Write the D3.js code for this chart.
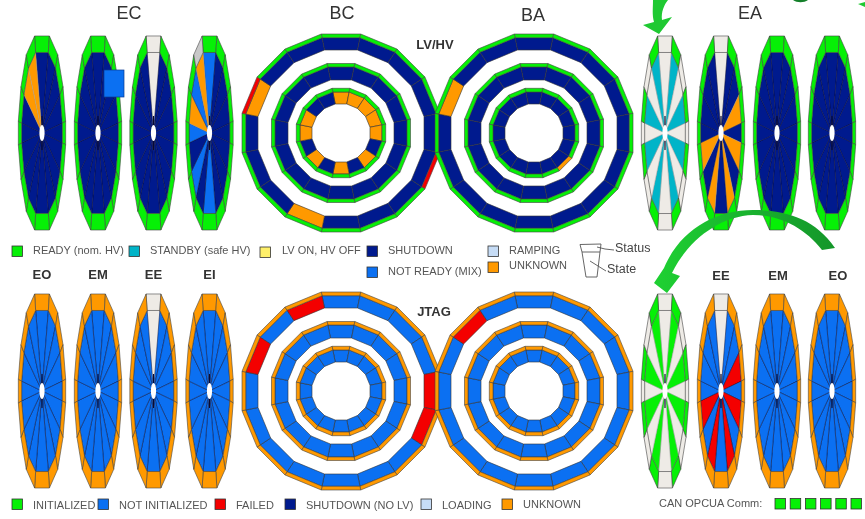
<!DOCTYPE html>
<html>
<head>
<meta charset="utf-8">
<script src="https://cdn.jsdelivr.net/npm/d3@7"></script>
<style>
  html, body { margin: 0; background: #fff; }
  svg { display: block; font-family: "Liberation Sans", Arial, sans-serif; filter: blur(0.4px); }
  .legend-text { font-size: 11px; fill: #555; }
  .title { font-size: 18px; fill: #333; text-anchor: middle; }
  .subtitle { font-size: 13px; font-weight: bold; fill: #333; text-anchor: middle; }
</style>
</head>
<body>
<svg id="chart" width="865" height="519"></svg>
<script>
// one letter per sector, clockwise from the top sector
const allOf = c => c.repeat(16);

// endcap wheels, HV panel
const ecState = ['nnnnnnnnnnnnnnoo', allOf('n'), 'wnnnnnnnnnnnnnnn', 'bnnnnnnnbnbnbobo'];
const ecStatus = [allOf('g'), allOf('g'), 'wggggggggggggggg', 'gggggggggggggggx'];
const eaState = ['wtwtwtwtwtwtwtwt', 'wnnonononononnnn', allOf('n'), allOf('n')];
const eaStatus = ['wgwgwgwgwgwgwgwg', 'wggggggggggggggg', allOf('g'), allOf('g')];

// endcap wheels, JTAG panel
const eiState = [allOf('b'), allOf('b'), 'wbbbbbbbbbbbbbbb', allOf('b')];
const eiStatus = [allOf('o'), allOf('o'), 'wooooooooooooooo', allOf('o')];
const eeState = ['wgwgwgwgwgwgwgwg', 'wbbrbrbrbrbrbbbb', allOf('b'), allOf('b')];
const eeStatus = ['wgwgwgwgwgwgwgwg', 'wooooooooooooooo', allOf('o'), allOf('o')];

// barrel rings, outer / middle / inner
const bcLvState = ['nnnnnnnnnonnnonn', allOf('n'), 'ooooonononon' + 'oonn'];
const bcLvStatus = ['ggggrrgggggggrgg', allOf('g'), allOf('g')];
const baLvState = ['nnnnnnnnnnnnnonn', allOf('n'), allOf('n')];
const baLvStatus = [allOf('g'), allOf('g'), 'ggggggoggggggggg'];
const bcJtagState = ['bbbbrrbbbbbbbrbr', allOf('b'), allOf('b')];
const baJtagState = ['bbbbbbbbbbbbbbrb', allOf('b'), allOf('b')];
const jtagStatus = [allOf('o'), allOf('o'), allOf('o')];

const hvLegendLabels = ['READY (nom. HV)', 'STANDBY (safe HV)', 'LV ON, HV OFF', 'SHUTDOWN', 'NOT READY (MIX)', 'RAMPING', 'UNKNOWN'];
const hvLegendCodes = ['g', 't', 'y', 'n', 'b', 'l', 'o'];
const jtagLegendLabels = ['INITIALIZED', 'NOT INITIALIZED', 'FAILED', 'SHUTDOWN (NO LV)', 'LOADING', 'UNKNOWN'];
const jtagLegendCodes = ['g', 'b', 'r', 'n', 'l', 'o'];
const canComm = ['g', 'g', 'g', 'g', 'g', 'g'];

const codes = ['g', 't', 'y', 'n', 'b', 'l', 'o', 'r', 'w', 'x'];
const color = d3.scaleOrdinal(codes,
  ['#06f006', '#00b4c8', '#fff06a', '#001a8e', '#0b70f2', '#c6dcf6', '#ff9900', '#f40000', '#eeebe6', '#c8c8c8']);

// layout
const sectors = d3.range(16);
const edgeAngle = d3.scaleLinear([0, 16], [-Math.PI / 16, 2 * Math.PI - Math.PI / 16]);
const colsLeft = [42, 98, 153.5, 209.5];
const colsRight = [665, 721, 777, 832];
const ringRadii = [[99, 95.3, 83], [69.5, 66, 53], [44.7, 41, 29]];
const vertexFactor = 1 / Math.cos(Math.PI / 16);

const svg = d3.select('#chart');
const art = svg.append('g').attr('id', 'art');

// endcap outline is not a true ellipse: pinch it with two exponents
const rimPoint = (x, y, i, rx, ry) => {
  const a = edgeAngle(i);
  const s = Math.sin(a), c = Math.cos(a);
  return [
    x(Math.sign(s) * Math.pow(Math.abs(s), 0.72) * rx),
    y(-Math.sign(c) * Math.pow(Math.abs(c), 1.3) * ry)
  ];
};

function drawWheel(parent, cx, cy, state, status) {
  const x = d3.scaleLinear([-1, 1], [cx - 24, cx + 24]);
  const y = d3.scaleLinear([-1, 1], [cy - 99.5, cy + 99.5]);
  const g = parent.append('g').attr('class', 'wheel');
  const poly = pts => 'M' + pts.map(p => p.join(',')).join('L') + 'Z';

  g.selectAll('.state').data(sectors).join('path')
    .attr('class', 'state')
    .attr('d', i => poly([[cx, cy], rimPoint(x, y, i, 0.86, 0.83), rimPoint(x, y, i + 1, 0.86, 0.83)]))
    .attr('fill', i => color(state[i]))
    .attr('stroke', i => 'nbr'.includes(state[i]) ? '#0a0a30' : '#9a9a9a')
    .attr('stroke-width', 0.45);

  g.selectAll('.status').data(sectors).join('path')
    .attr('class', 'status')
    .attr('d', i => poly([
      rimPoint(x, y, i, 1, 1), rimPoint(x, y, i + 1, 1, 1),
      rimPoint(x, y, i + 1, 0.86, 0.83), rimPoint(x, y, i, 0.86, 0.83)
    ]))
    .attr('fill', i => color(status[i]))
    .attr('stroke', '#444')
    .attr('stroke-width', 0.6);

  // spokes bunch up into a dark sliver above and below the hole
  g.append('line')
    .attr('x1', cx).attr('x2', cx)
    .attr('y1', cy - 17).attr('y2', cy + 17)
    .attr('stroke', '#0a0a30').attr('stroke-width', 1.1);

  g.append('ellipse')
    .attr('cx', cx).attr('cy', cy)
    .attr('rx', 2.6).attr('ry', 8)
    .attr('fill', '#fff');
}

function drawRings(parent, cx, cy, states, statuses) {
  const g = parent.append('g').attr('class', 'rings');
  ringRadii.forEach((radii, k) => {
    const band = (i, r0, r1) => {
      const pts = [
        d3.pointRadial(edgeAngle(i), r0 * vertexFactor),
        d3.pointRadial(edgeAngle(i + 1), r0 * vertexFactor),
        d3.pointRadial(edgeAngle(i + 1), r1 * vertexFactor),
        d3.pointRadial(edgeAngle(i), r1 * vertexFactor)
      ];
      return 'M' + pts.map(p => [cx + p[0], cy + p[1]].join(',')).join('L') + 'Z';
    };
    g.selectAll('.state' + k).data(sectors).join('path')
      .attr('class', 'state' + k)
      .attr('d', i => band(i, radii[1], radii[2]))
      .attr('fill', i => color(states[k][i]))
      .attr('stroke', '#333').attr('stroke-width', 0.6);
    g.selectAll('.status' + k).data(sectors).join('path')
      .attr('class', 'status' + k)
      .attr('d', i => band(i, radii[0], radii[1]))
      .attr('fill', i => color(statuses[k][i]))
      .attr('stroke', '#444').attr('stroke-width', 0.6);
  });
}

colsLeft.forEach((cx, i) => {
  drawWheel(art, cx, 133, ecState[i], ecStatus[i]);
  drawWheel(art, cx, 391, eiState[i], eiStatus[i]);
});
colsRight.forEach((cx, i) => {
  drawWheel(art, cx, 133, eaState[i], eaStatus[i]);
  drawWheel(art, cx, 391, eeState[i], eeStatus[i]);
});

drawRings(art, 341, 133, bcLvState, bcLvStatus);
drawRings(art, 534, 133, baLvState, baLvStatus);
drawRings(art, 341, 391, bcJtagState, jtagStatus);
drawRings(art, 534, 391, baJtagState, jtagStatus);

// the stray module drawn over the second EC wheel
art.append('rect')
  .attr('x', 104).attr('y', 70).attr('width', 20).attr('height', 27)
  .attr('fill', color('b')).attr('stroke', '#0a3a90').attr('stroke-width', 0.7);

// titles
const titles = ['EC', 'BC', 'BA', 'EA'];
const titleX = [129, 342, 533, 750];
const titleY = [19, 19, 21, 19];
art.selectAll('.title').data(titles).join('text')
  .attr('class', 'title')
  .attr('x', (d, i) => titleX[i]).attr('y', (d, i) => titleY[i])
  .text(d => d);

const leftNames = ['EO', 'EM', 'EE', 'EI'];
const rightNames = ['EE', 'EM', 'EO'];
const rightNameX = [721, 778, 838];
art.selectAll('.name-left').data(leftNames).join('text')
  .attr('class', 'subtitle name-left')
  .attr('x', (d, i) => colsLeft[i]).attr('y', 279)
  .text(d => d);
art.selectAll('.name-right').data(rightNames).join('text')
  .attr('class', 'subtitle name-right')
  .attr('x', (d, i) => rightNameX[i]).attr('y', 280)
  .text(d => d);
art.append('text').attr('class', 'subtitle').attr('x', 435).attr('y', 49).text('LV/HV');
art.append('text').attr('class', 'subtitle').attr('x', 434).attr('y', 316).text('JTAG');

// legends
const swatch = (parent, x, y, code) => parent.append('rect')
  .attr('x', x).attr('y', y).attr('width', 10.5).attr('height', 10.5)
  .attr('fill', color(code)).attr('stroke', '#333').attr('stroke-width', 0.8);
const legendText = (parent, x, y, label) => parent.append('text')
  .attr('class', 'legend-text').attr('x', x).attr('y', y).text(label);

const hvSwatchX = [12, 129, 260, 367, 367, 488, 488];
const hvSwatchY = [246, 246, 247, 246, 267, 246, 262];
const hvTextX = [33, 150, 282, 388, 388, 509, 509];
const hvTextY = [254, 254, 254, 254, 275, 254, 269];
hvLegendLabels.forEach((label, i) => {
  swatch(art, hvSwatchX[i], hvSwatchY[i], hvLegendCodes[i]);
  legendText(art, hvTextX[i], hvTextY[i], label);
});

const jtagSwatchX = [12, 98, 215, 285, 421, 502];
const jtagTextX = [33, 119, 236, 306, 442, 523];
jtagLegendLabels.forEach((label, i) => {
  swatch(art, jtagSwatchX[i], 499, jtagLegendCodes[i]);
  legendText(art, jtagTextX[i], i === 5 ? 508 : 509, label);
});

legendText(art, 659, 507, 'CAN OPCUA Comm:');
canComm.forEach((code, i) => swatch(art, 775 + i * 15.2, 498.5, code));

// status/state key
const key = art.append('g').attr('fill', 'none').attr('stroke', '#555').attr('stroke-width', 0.9);
key.append('path').attr('d', 'M580,244.5L601,244L600,252L582,252Z');
key.append('path').attr('d', 'M582,252L586,277L597,277L600,252');
key.append('path').attr('d', 'M597,247L605,249L614,250');
key.append('path').attr('d', 'M590,261L606,271');
art.append('text').attr('x', 615).attr('y', 252).attr('font-size', 12.5).attr('fill', '#444').text('Status');
art.append('text').attr('x', 607).attr('y', 273).attr('font-size', 12.5).attr('fill', '#444').text('State');

// green arrows pasted over the panel
const defs = svg.append('defs');
const grad = defs.append('linearGradient').attr('id', 'arc-green')
  .attr('gradientUnits', 'userSpaceOnUse')
  .attr('x1', 660).attr('y1', 0).attr('x2', 835).attr('y2', 0);
grad.append('stop').attr('offset', 0).attr('stop-color', '#1ecf32');
grad.append('stop').attr('offset', 1).attr('stop-color', '#14962a');

const arrows = art.append('g');
arrows.append('path').attr('fill', '#1fc932')
  .attr('d', 'M653,0C653,8 652,15 654,22L643,25L659,34L672,17L662,20C661,12 664,5 668,0Z');
arrows.append('path').attr('fill', 'url(#arc-green)')
  .attr('d', 'M835,248C815,218 785,210 753,210C715,210 680,230 664,268L654,283L667,293L680,276L672,273C688,240 720,216 753,215C780,215 805,228 822,250Z');
arrows.append('path').attr('fill', '#14802a').attr('d', 'M793,0C797,3 804,3 808,0Z');
arrows.append('path').attr('fill', '#1fc932').attr('d', 'M858,4L865,2L865,7Z');
</script>
</body>
</html>
